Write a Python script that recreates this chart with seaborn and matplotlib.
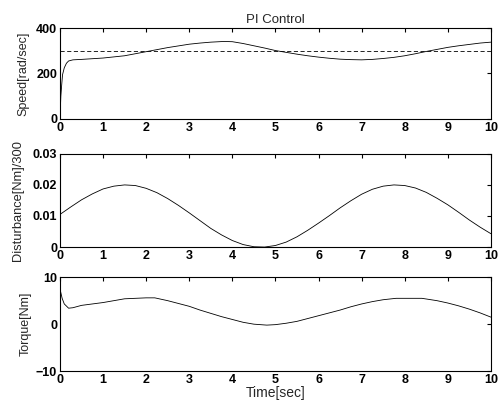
import matplotlib
matplotlib.use("Agg")
import matplotlib.pyplot as plt
import seaborn as sns

sns.set_style("white")
plt.rcParams['font.family'] = ['Liberation Sans', 'DejaVu Sans']

# Speed response [rad/sec]
speed_t = [0, 0.02, 0.04, 0.06, 0.1, 0.15, 0.2, 0.3, 0.5, 1.0, 1.5, 2.0, 2.5, 3.0, 3.25, 3.5, 3.8,
           4.0, 4.25, 4.5, 4.75, 5.0, 5.25, 5.5, 5.75, 6.0, 6.25, 6.5, 6.75, 7.0, 7.25, 7.5, 7.75,
           8.0, 8.25, 8.5, 8.75, 9.0, 9.25, 9.5, 9.75, 10.0]
speed_v = [0, 100, 150, 195, 225, 245, 255, 260, 262, 268, 278, 296, 314, 329, 334, 338, 341,
           340, 332, 322, 312, 301, 293, 285, 278, 272, 267, 263, 261, 260, 262, 266, 271,
           278, 287, 297, 306, 315, 322, 328, 334, 338]
speed_ref = [300, 300]
speed_ref_t = [0, 10]

# Disturbance [Nm]/300
dist_t = [0, 0.25, 0.5, 0.75, 1.0, 1.25, 1.5, 1.75, 2.0, 2.25, 2.5, 2.75, 3.0, 3.25, 3.5, 3.75,
          4.0, 4.25, 4.5, 4.75, 5.0, 5.25, 5.5, 5.75, 6.0, 6.25, 6.5, 6.75, 7.0, 7.25, 7.5, 7.75,
          8.0, 8.25, 8.5, 8.75, 9.0, 9.25, 9.5, 9.75, 10.0]
dist_v = [0.0105, 0.0129, 0.0152, 0.0171, 0.0187, 0.0196, 0.0200, 0.0198, 0.0189, 0.0175,
          0.0156, 0.0134, 0.0110, 0.0085, 0.0060, 0.0039, 0.0021, 0.0008, 0.0001, 0.0000,
          0.0005, 0.0016, 0.0033, 0.0054, 0.0077, 0.0101, 0.0126, 0.0149, 0.0170, 0.0186,
          0.0196, 0.0200, 0.0198, 0.0190, 0.0176, 0.0157, 0.0136, 0.0112, 0.0087, 0.0064, 0.0043]

# Torque [Nm]
torque_t = [0, 0.05, 0.1, 0.2, 0.3, 0.5, 1.0, 1.5, 2.0, 2.2, 2.5, 2.75, 3.0, 3.25, 3.5, 3.75,
            4.0, 4.25, 4.5, 4.8, 5.0, 5.25, 5.5, 5.75, 6.0, 6.25, 6.5, 6.75, 7.0, 7.25, 7.5, 7.8,
            8.4, 8.75, 9.0, 9.25, 9.5, 9.75, 10.0]
torque_v = [7.5, 5.5, 4.3, 3.4, 3.5, 4.0, 4.6, 5.4, 5.6, 5.6, 5.0, 4.4, 3.8, 3.0, 2.3, 1.6,
            1.0, 0.4, 0.0, -0.2, -0.1, 0.2, 0.6, 1.2, 1.8, 2.4, 3.0, 3.7, 4.3, 4.8, 5.2, 5.5,
            5.5, 5.0, 4.5, 3.9, 3.2, 2.4, 1.5]

xticks = list(range(0, 11))

fig = plt.figure(figsize=(5.04, 4.07), dpi=100)
L, W = 0.119, 0.855
ax1 = fig.add_axes([L, 0.708, W, 0.223])
ax2 = fig.add_axes([L, 0.393, W, 0.229])
ax3 = fig.add_axes([L, 0.088, W, 0.231])

lw = 0.6
sns.lineplot(x=speed_t, y=speed_v, ax=ax1, color='black', lw=lw)
sns.lineplot(x=speed_ref_t, y=speed_ref, ax=ax1, color='black', lw=0.6, linestyle=(0, (5, 3)))
sns.lineplot(x=dist_t, y=dist_v, ax=ax2, color='black', lw=lw)
sns.lineplot(x=torque_t, y=torque_v, ax=ax3, color='black', lw=lw)

ax1.set_ylim(0, 400); ax1.set_yticks([0, 200, 400])
ax2.set_ylim(0, 0.03); ax2.set_yticks([0, 0.01, 0.02, 0.03])
ax2.set_yticklabels(['0', '0.01', '0.02', '0.03'])
ax3.set_ylim(-10, 10); ax3.set_yticks([-10, 0, 10])

ax1.set_ylabel('Speed[rad/sec]', fontsize=9)
ax2.set_ylabel('Disturbance[Nm]/300', fontsize=9.3)
ax3.set_ylabel('Torque[Nm]', fontsize=9)
ax3.set_xlabel('Time[sec]', fontsize=10, labelpad=0)
ax1.set_title('PI Control', fontsize=9.5, pad=4)

for ax in (ax1, ax2, ax3):
    ax.set_xlim(0, 10)
    ax.set_xticks(xticks)
    ax.tick_params(direction='in', length=3, width=0.8, top=True, right=True,
                   labelsize=9, pad=2, colors='black')
    for s in ax.spines.values():
        s.set_color('black'); s.set_linewidth(0.8); s.set_visible(True)
    for lab in ax.get_xticklabels() + ax.get_yticklabels():
        lab.set_fontweight('bold')

ax1.yaxis.set_label_coords(-0.072, 0.5)
ax2.yaxis.set_label_coords(-0.083, 0.5)
ax3.yaxis.set_label_coords(-0.065, 0.5)

fig.savefig('out.png', dpi=100, facecolor='white')
